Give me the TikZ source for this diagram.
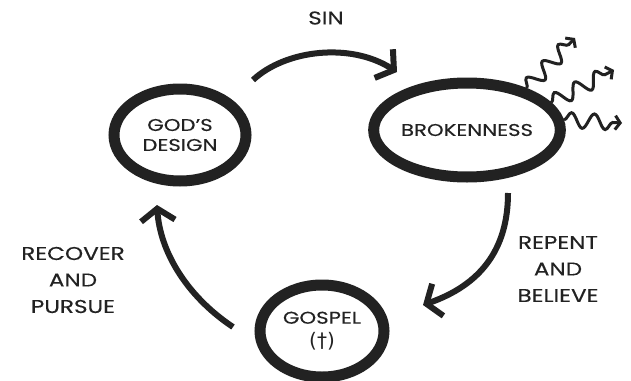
\documentclass[tikz,border=0pt]{standalone}
\usepackage{fontspec}
\setmainfont{Poppins}[FakeStretch=1.25,FakeBold=0.25]
\newfontfamily\symfont{DejaVu Sans}
\usetikzlibrary{arrows.meta,shapes.geometric,decorations.pathmorphing,calc}
\definecolor{ink}{HTML}{222222}
\begin{document}
\begin{tikzpicture}[x=1pt,y=-1pt,
  ring/.style={ellipse, draw=ink, line width=11pt, inner sep=0pt, text=ink, align=center, font=\fontsize{17}{20}\selectfont},
  flow/.style={draw=ink, line width=6pt, -{Straight Barb[length=12pt,width=34pt]}},
  wave/.style={draw=ink, line width=3pt, decorate, decoration={snake, amplitude=7.5pt, segment length=23pt, post length=7pt}, -{Straight Barb[length=5pt,width=14pt]}},
  lbl/.style={text=ink, align=center, inner sep=0pt, font=\fontsize{18.5}{26.5}\selectfont}]
\useasboundingbox (0,0) rectangle (631,380);
\fill[white] (0,0) rectangle (631,380);

\node[ring, minimum width=132pt, minimum height=92pt] (gd) at (180,135) {GOD'S\\DESIGN};
\node[ring, minimum width=170pt, minimum height=94pt] (brk) at (467,130) {BROKENNESS};
\node[ring, minimum width=124pt, minimum height=92pt] (gos) at (322,331) {GOSPEL\\[4pt]{\symfont\fontsize{20}{20}\selectfont (†)}};

\draw[flow] ($(gd.center)+(73,-55)$) .. controls (285,50) and (350,42) .. ($(brk.center)+(-70,-58)$);
\draw[flow] ($(brk.center)+(41,63)$) .. controls (508,250) and (480,285) .. ($(gos.center)+(101,-26)$);
\draw[flow] ($(gos.center)+(-89,-4)$) .. controls (185,295) and (160,250) .. ($(gd.center)+(-23,70)$);

\coordinate (w1) at (575,38);
\coordinate (w2) at (614,70);
\coordinate (w3) at (622,123);
\draw[wave] (brk.35) -- (w1);
\draw[wave] (brk.18) -- (w2);
\draw[wave] (brk.6) -- (w3);

\node[lbl] (sin) at (326,18) {SIN};
\node[lbl] (rec) at (73,280) {RECOVER\\AND\\PURSUE};
\node[lbl] (rep) at (558,269) {REPENT\\AND\\BELIEVE};
\end{tikzpicture}
\end{document}
